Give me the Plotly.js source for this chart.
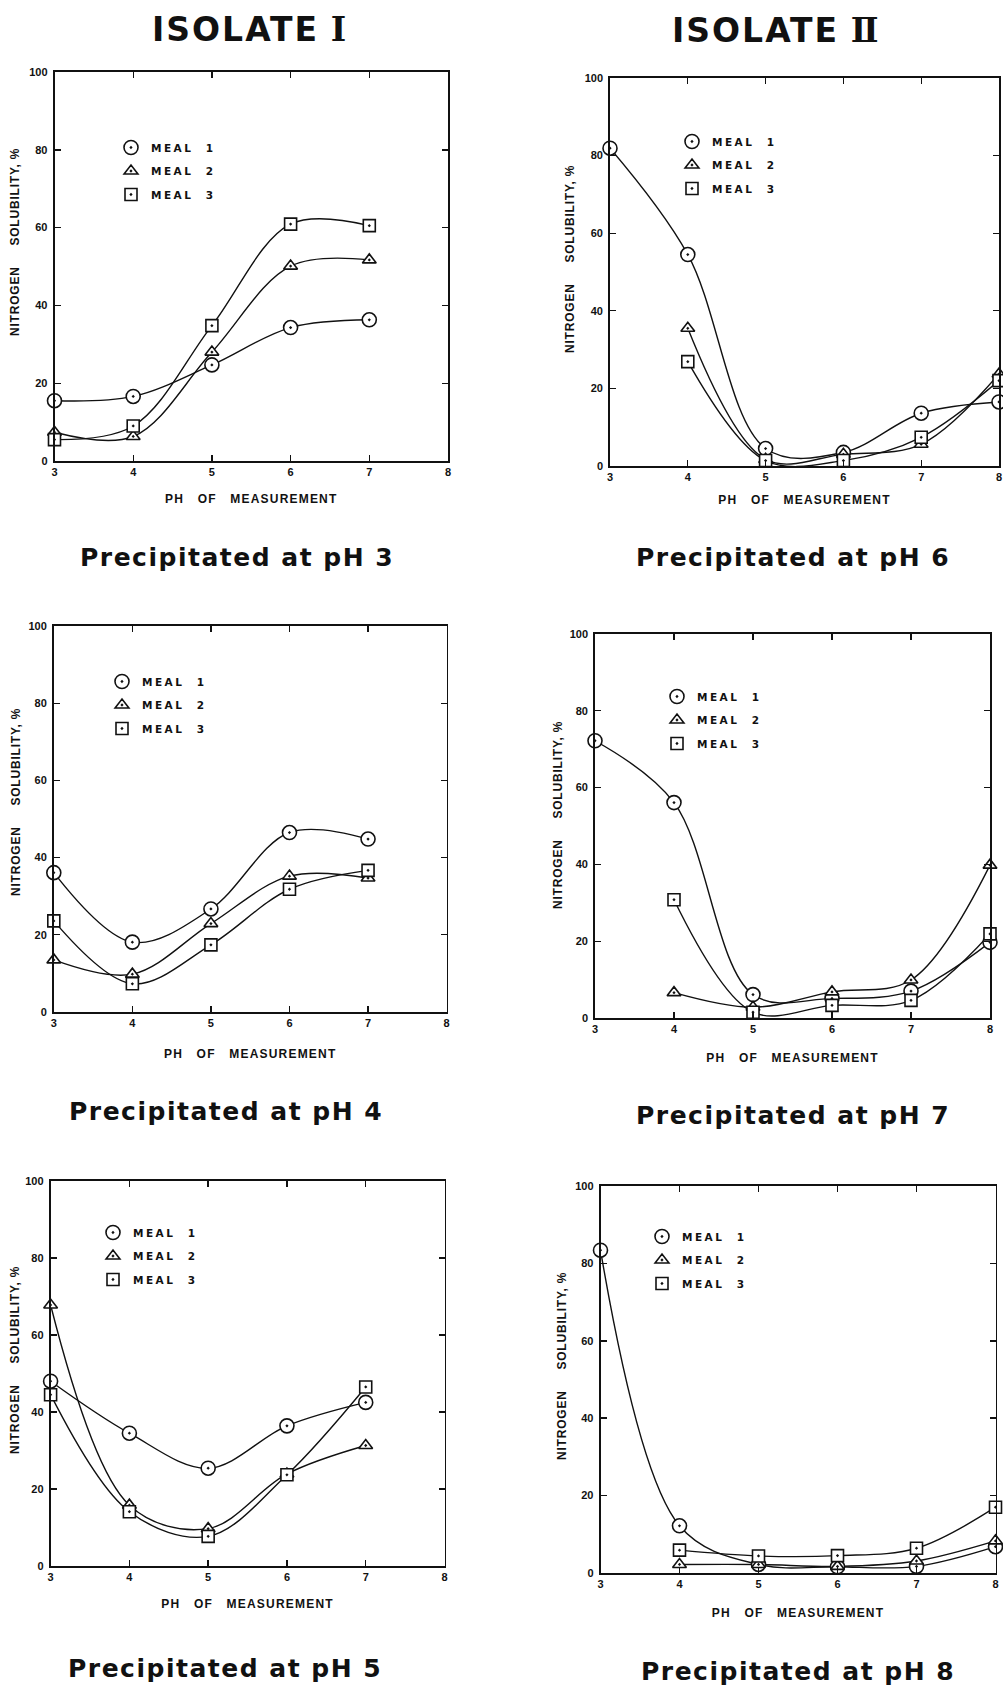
<!DOCTYPE html>
<html>
<head>
<meta charset="utf-8">
<script src="https://cdn.plot.ly/plotly-3.0.1.min.js"></script>
<style>html,body{margin:0;padding:0;background:#fff;}</style>
</head>
<body>
<div id="chart" style="width:1003px;height:1688px;"></div>
<script>
// ---------- data ----------
const phOfMeasurement = [3, 4, 5, 6, 7, 8];
const xTickLabels = ['3', '4', '5', '6', '7', '8'];
const yTickValues = [0, 20, 40, 60, 80, 100];
const yTickLabels = ['0', '20', '40', '60', '80', '100'];
const mealNames = ['MEAL\u00a0\u00a01', 'MEAL\u00a0\u00a02', 'MEAL\u00a0\u00a03'];
const isolateWord = 'ISOLATE';
const isolateNumerals = ['\u2160', '\u2161'];
const panelTitles = ['Precipitated at pH 3', 'Precipitated at pH 6',
                     'Precipitated at pH 4', 'Precipitated at pH 7',
                     'Precipitated at pH 5', 'Precipitated at pH 8'];
const xAxisTitle = 'PH\u00a0\u00a0\u00a0OF\u00a0\u00a0\u00a0MEASUREMENT';
const yAxisTitle = 'NITROGEN\u00a0\u00a0\u00a0\u00a0\u00a0SOLUBILITY, %';

// Isolate I (measured at pH 3-7)
const isoI_pH3_meal1 = [15.5, 16.6, 24.7, 34.3, 36.3, null];
const isoI_pH3_meal2 = [7.4, 6.3, 28.0, 50.1, 51.7, null];
const isoI_pH3_meal3 = [5.5, 9.0, 34.8, 60.9, 60.5, null];

const isoI_pH4_meal1 = [36.1, 18.1, 26.7, 46.5, 44.8, null];
const isoI_pH4_meal2 = [13.5, 9.8, 22.9, 35.2, 34.7, null];
const isoI_pH4_meal3 = [23.6, 7.3, 17.4, 31.8, 36.7, null];

const isoI_pH5_meal1 = [48.0, 34.5, 25.4, 36.4, 42.5, null];
const isoI_pH5_meal2 = [67.8, 15.8, 9.7, 23.9, 31.3, null];
const isoI_pH5_meal3 = [44.5, 14.1, 7.7, 23.7, 46.5, null];

// Isolate II (measured at pH 3-8)
const isoII_pH6_meal1 = [81.9, 54.5, 4.5, 3.5, 13.6, 16.5];
const isoII_pH6_meal2 = [null, 35.5, 1.7, 3.0, 5.6, 23.7];
const isoII_pH6_meal3 = [null, 26.9, 1.4, 1.4, 7.4, 22.0];

const isoII_pH7_meal1 = [72.2, 56.1, 6.1, 5.1, 7.0, 19.7];
const isoII_pH7_meal2 = [null, 6.6, 2.8, 6.8, 9.9, 39.8];
const isoII_pH7_meal3 = [null, 30.8, 1.5, 3.3, 4.6, 21.9];

const isoII_pH8_meal1 = [83.4, 12.2, 2.2, 1.6, 1.7, 6.8];
const isoII_pH8_meal2 = [null, 2.2, 2.2, 1.7, 3.1, 8.3];
const isoII_pH8_meal3 = [null, 5.9, 4.4, 4.5, 6.4, 17.0];

// ---------- layout geometry (pixels in a 1003 x 1688 page) ----------
const W = 1003, H = 1688;
const panels = [
  {series: [isoI_pH3_meal1, isoI_pH3_meal2, isoI_pH3_meal3],   box: [54.5, 448, 72, 461],     legend: [131, 148], ytitle: [15, 242],  standoff: 17, sub: [237, 557]},
  {series: [isoII_pH6_meal1, isoII_pH6_meal2, isoII_pH6_meal3], box: [610, 999, 78, 466],      legend: [692, 142], ytitle: [570, 259], standoff: 13, sub: [793, 557]},
  {series: [isoI_pH4_meal1, isoI_pH4_meal2, isoI_pH4_meal3],   box: [53.8, 446.6, 626, 1012], legend: [122, 682], ytitle: [16, 802],  standoff: 21, sub: [226, 1111]},
  {series: [isoII_pH7_meal1, isoII_pH7_meal2, isoII_pH7_meal3], box: [595, 990, 634, 1018],    legend: [677, 697], ytitle: [558, 815], standoff: 19, sub: [793, 1115]},
  {series: [isoI_pH5_meal1, isoI_pH5_meal2, isoI_pH5_meal3],   box: [50.6, 444.5, 1181, 1566], legend: [113, 1233], ytitle: [15, 1360], standoff: 17, sub: [225, 1668]},
  {series: [isoII_pH8_meal1, isoII_pH8_meal2, isoII_pH8_meal3], box: [600.5, 995.5, 1186, 1573], legend: [662, 1237], ytitle: [562, 1366], standoff: 19, sub: [798, 1671]}
];

const symbols = ['circle-dot', 'triangle-up-dot', 'square-dot'];
const sizes = [14, 12, 12];
const ink = '#111111';
const sans = 'Liberation Sans, Arial, sans-serif';
const labelFont = {family: sans, size: 11, color: ink, weight: 'bold'};
const spaced = (txt, px) => '<span style="letter-spacing:' + px + 'px">' + txt + '</span>';

const traces = [];
const layout = {
  width: W, height: H,
  margin: {l: 0, r: 0, t: 0, b: 0},
  paper_bgcolor: '#ffffff', plot_bgcolor: '#ffffff',
  font: {family: sans, color: ink},
  annotations: [],
  showlegend: true
};

panels.forEach((p, i) => {
  const n = i === 0 ? '' : String(i + 1);
  const xa = 'x' + n, ya = 'y' + n;
  const legendId = 'legend' + n;
  const [l, r, t, b] = p.box;

  // smooth curves through each meal's points
  p.series.forEach((vals) => {
    traces.push({
      x: phOfMeasurement, y: vals, xaxis: xa, yaxis: ya,
      mode: 'lines', type: 'scatter',
      line: {shape: 'spline', smoothing: 1, color: ink, width: 1.4},
      showlegend: false, hoverinfo: 'skip', cliponaxis: false
    });
  });
  // markers (also the legend entries)
  p.series.forEach((vals, k) => {
    traces.push({
      x: phOfMeasurement, y: vals, xaxis: xa, yaxis: ya,
      mode: 'markers', type: 'scatter', name: spaced(mealNames[k], 2.5),
      marker: {symbol: symbols[k], size: sizes[k], color: '#ffffff', line: {color: ink, width: 1.6}},
      legend: legendId, legendgroup: 'p' + i + 'm' + k,
      cliponaxis: false
    });
  });

  layout['xaxis' + n] = {
    domain: [l / W, r / W], anchor: ya, range: [3, 8],
    tickmode: 'array', tickvals: phOfMeasurement, ticktext: xTickLabels,
    ticks: 'inside', ticklen: 6, tickwidth: 1.4, tickcolor: ink,
    showline: true, linewidth: 1.8, linecolor: ink, mirror: 'ticks',
    showgrid: false, zeroline: false, tickfont: labelFont, fixedrange: true,
    ticklabeloverflow: 'allow',
    title: {text: spaced(xAxisTitle, 1.2), font: {family: sans, size: 12, color: ink, weight: 'bold'}, standoff: p.standoff}
  };
  layout['yaxis' + n] = {
    domain: [1 - b / H, 1 - t / H], anchor: xa, range: [0, 100],
    tickmode: 'array', tickvals: yTickValues, ticktext: yTickLabels,
    ticks: 'inside', ticklen: 6, tickwidth: 1.4, tickcolor: ink,
    showline: true, linewidth: 1.8, linecolor: ink, mirror: 'ticks',
    showgrid: false, zeroline: false, tickfont: labelFont, fixedrange: true,
    ticklabelstandoff: 3
  };
  layout[legendId] = {
    x: (p.legend[0] - 20) / W, y: 1 - (p.legend[1] - 15) / H,
    xref: 'paper', yref: 'paper', xanchor: 'left', yanchor: 'top',
    bgcolor: 'rgba(0,0,0,0)', borderwidth: 0,
    font: {family: 'DejaVu Sans, sans-serif', size: 10.5, color: ink, weight: 'bold'},
    traceorder: 'grouped', tracegroupgap: 4.5,
    itemclick: false, itemdoubleclick: false
  };

  layout.annotations.push({
    text: spaced(yAxisTitle, 0.8), textangle: -90, showarrow: false,
    xref: 'paper', yref: 'paper', x: p.ytitle[0] / W, y: 1 - p.ytitle[1] / H,
    xanchor: 'center', yanchor: 'middle',
    font: {family: sans, size: 12, color: ink, weight: 'bold'}
  });
  layout.annotations.push({
    text: spaced(panelTitles[i], 1.5), showarrow: false,
    xref: 'paper', yref: 'paper', x: p.sub[0] / W, y: 1 - p.sub[1] / H,
    xanchor: 'center', yanchor: 'middle',
    font: {family: 'DejaVu Sans, sans-serif', size: 25, color: ink, weight: 'bold'}
  });
});

const titlePos = [[249, 29], [775, 31]];
titlePos.forEach((pos, j) => {
  layout.annotations.push({
    text: spaced(isolateWord, 2) + ' <span style="font-family:DejaVu Serif">' + isolateNumerals[j] + '</span>',
    showarrow: false, xref: 'paper', yref: 'paper',
    x: pos[0] / W, y: 1 - pos[1] / H, xanchor: 'center', yanchor: 'middle',
    font: {family: 'DejaVu Sans, sans-serif', size: 33, color: ink, weight: 'bold'}
  });
});

Plotly.newPlot('chart', traces, layout, {staticPlot: true, displayModeBar: false});
</script>
</body>
</html>
